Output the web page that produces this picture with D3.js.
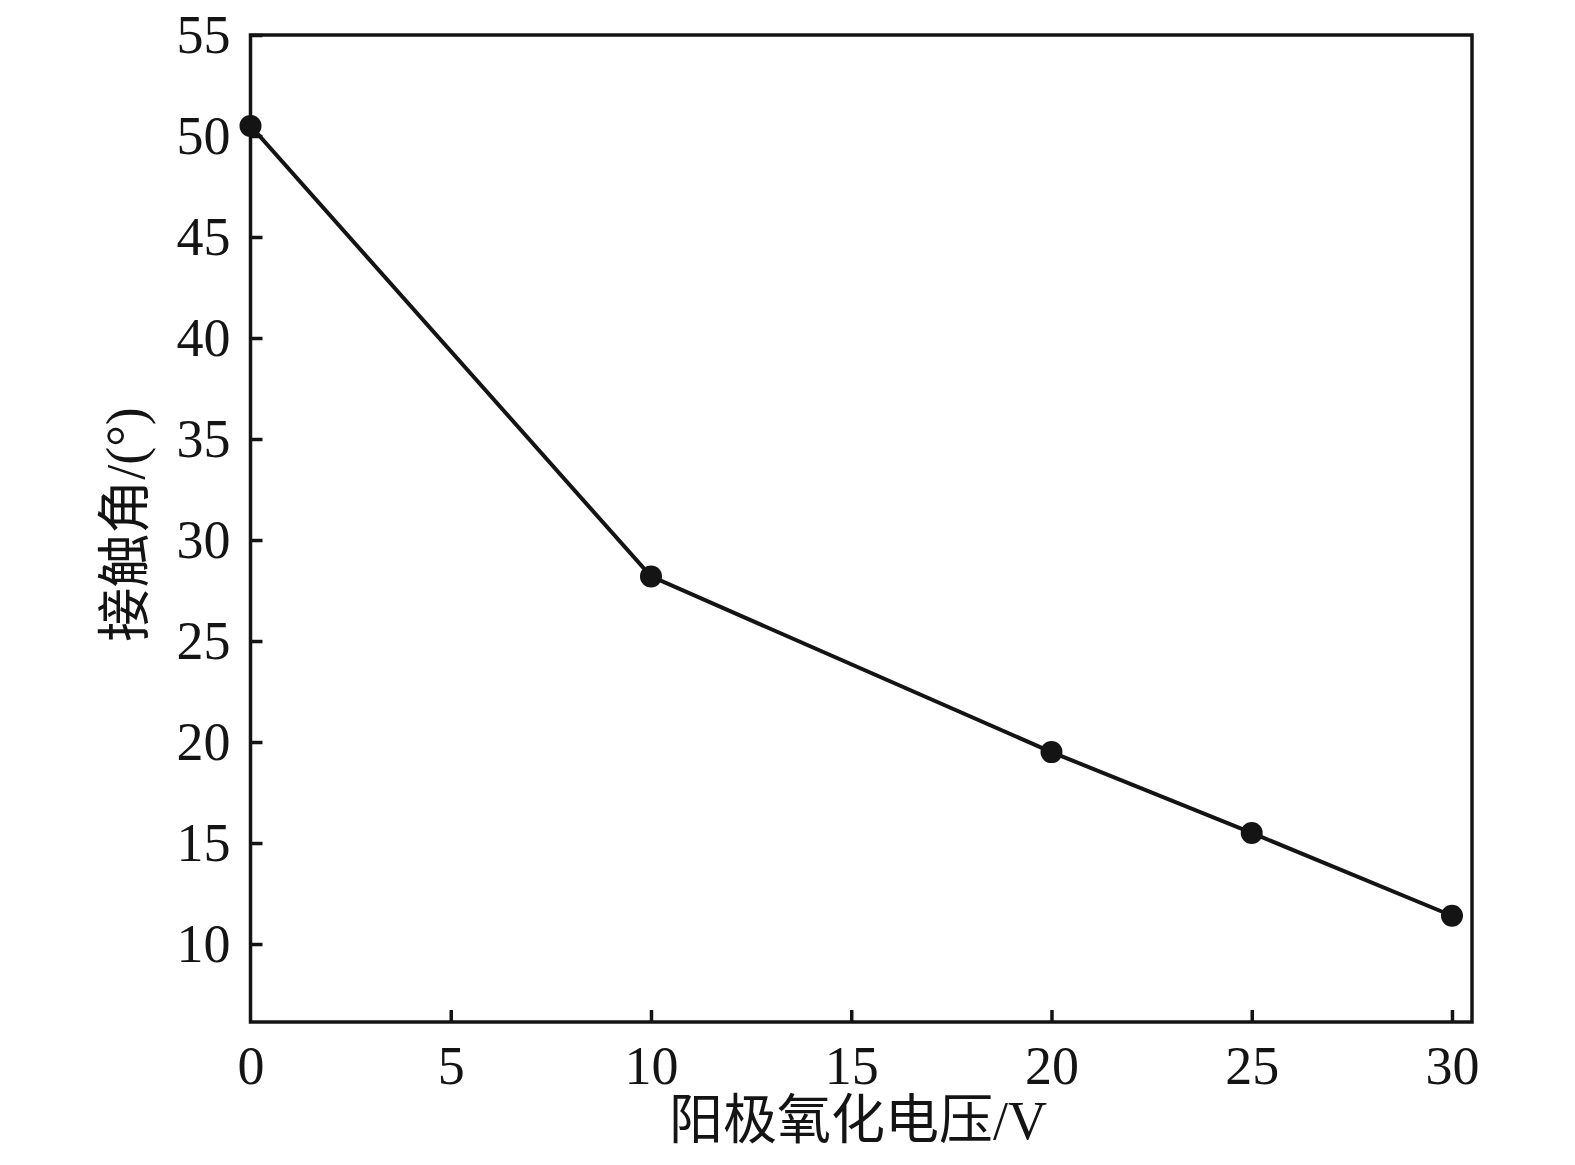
<!DOCTYPE html>
<html>
<head>
<meta charset="utf-8">
<script src="https://cdn.jsdelivr.net/npm/d3@7"></script>
<style>
  body { margin: 0; background: #fff; }
  text { font-family: "Liberation Serif", "Noto Sans CJK SC", serif; fill: #141414; }
</style>
</head>
<body>
<svg width="1575" height="1165"></svg>
<script>
const voltage = [0, 10, 20, 25, 30];
const angle = [50.5, 28.2, 19.5, 15.5, 11.4];
const xTicks = [0, 5, 10, 15, 20, 25, 30];
const yTicks = [10, 15, 20, 25, 30, 35, 40, 45, 50, 55];
const xTitle = "阳极氧化电压/V";
const yTitle = "接触角/(°)";

const margin = { top: 35, right: 103, bottom: 143, left: 250.5 };
const width = 1575 - margin.left - margin.right;
const height = 1165 - margin.top - margin.bottom;

const svg = d3.select("svg")
  .append("g")
  .attr("transform", `translate(${margin.left},${margin.top})`);

const x = d3.scaleLinear().domain([0, 30.5]).range([0, width]);
const y = d3.scaleLinear().domain([6.14, 55]).range([height, 0]);

// frame
svg.append("rect")
  .attr("width", width)
  .attr("height", height)
  .attr("fill", "none")
  .attr("stroke", "#141414")
  .attr("stroke-width", 3.5);

// bottom axis, ticks pointing inward
const xAxis = svg.append("g")
  .attr("transform", `translate(0,${height})`)
  .call(d3.axisBottom(x).tickValues(xTicks).tickSize(-12).tickPadding(24).tickFormat(d3.format("d")));
xAxis.select(".domain").remove();
xAxis.selectAll(".tick line").attr("stroke", "#141414").attr("stroke-width", 3.5)
  .attr("display", d => d === 0 ? "none" : null);
xAxis.selectAll(".tick text").attr("font-size", 54);

// left axis
const yAxis = svg.append("g")
  .call(d3.axisLeft(y).tickValues(yTicks).tickSize(-12).tickPadding(20).tickFormat(d3.format("d")));
yAxis.select(".domain").remove();
yAxis.selectAll(".tick line").attr("stroke", "#141414").attr("stroke-width", 3.5);
yAxis.selectAll(".tick text").attr("font-size", 54);

// line and markers
const data = voltage.map((v, i) => ({ v, a: angle[i] }));
const line = d3.line().x(d => x(d.v)).y(d => y(d.a));

svg.append("path")
  .datum(data)
  .attr("fill", "none")
  .attr("stroke", "#141414")
  .attr("stroke-width", 4)
  .attr("d", line);

svg.selectAll("circle")
  .data(data)
  .enter()
  .append("circle")
  .attr("cx", d => x(d.v))
  .attr("cy", d => y(d.a))
  .attr("r", 11)
  .attr("fill", "#141414");

// axis titles
svg.append("text")
  .attr("x", x(15.17))
  .attr("y", height + 117)
  .attr("text-anchor", "middle")
  .attr("font-size", 54)
  .text(xTitle);

svg.append("text")
  .attr("transform", `translate(-107,${y(30.77)}) rotate(-90)`)
  .attr("text-anchor", "middle")
  .attr("font-size", 54)
  .text(yTitle);
</script>
</body>
</html>
